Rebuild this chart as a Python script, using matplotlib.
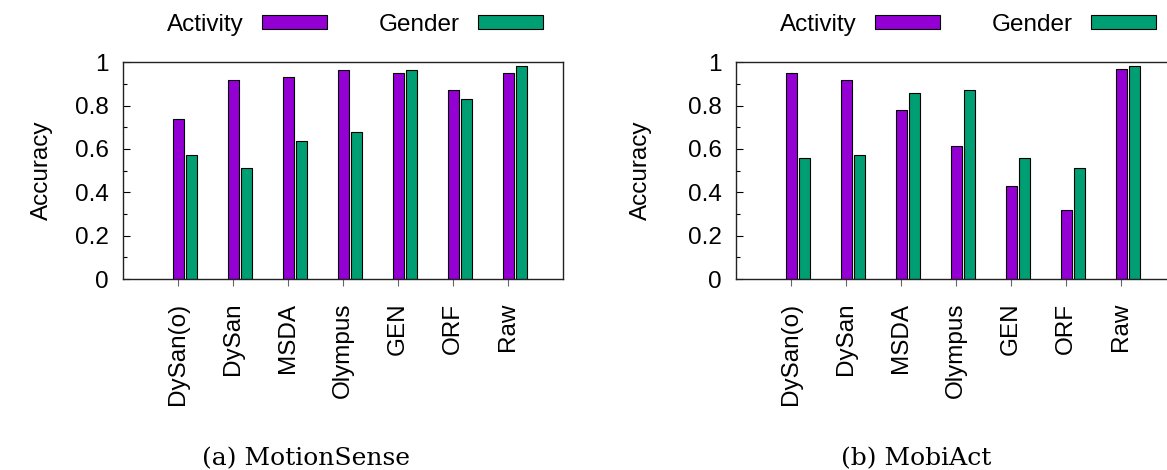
import numpy as np
import matplotlib
matplotlib.use("Agg")
import matplotlib.pyplot as plt
from matplotlib.ticker import MultipleLocator

plt.rcParams['font.family'] = ['Liberation Sans', 'DejaVu Sans']

methods = ["DySan(o)", "DySan", "MSDA", "Olympus", "GEN", "ORF", "Raw"]

# MotionSense
ms_activity = [0.74, 0.92, 0.93, 0.963, 0.952, 0.873, 0.952]
ms_gender = [0.571, 0.512, 0.639, 0.68, 0.963, 0.832, 0.981]

# MobiAct
ma_activity = [0.95, 0.92, 0.78, 0.613, 0.43, 0.318, 0.97]
ma_gender = [0.56, 0.57, 0.86, 0.87, 0.56, 0.512, 0.985]

captions = ["(a) MotionSense", "(b) MobiAct"]

purple = "#9400d3"
green = "#009e73"
fs = 17.5

W, H = 1167, 470
fig = plt.figure(figsize=(W / 100, H / 100), dpi=100)

def px_axes(left, top, width, height):
    return fig.add_axes([left / W, 1 - (top + height) / H, width / W, height / H])

# left px, axes width px, ylabel x px, caption x px
panels = [
    (123, 440, 53, 306, ms_activity, ms_gender, captions[0]),
    (736, 470, 652, 916, ma_activity, ma_gender, captions[1]),
]

step = 55.0  # px per category

for left, width, ylab_x, cap_x, act, gen, cap in panels:
    ax = px_axes(left, 62.3, width, 216.7)
    x = np.arange(1, len(methods) + 1)
    ax.bar(x, act, width=0.2, color=purple, edgecolor="black", linewidth=0.8, label="Activity")
    ax.bar(x + 0.245, gen, width=0.2, color=green, edgecolor="black", linewidth=0.8, label="Gender")
    ax.set_xlim(0, width / step)
    ax.set_ylim(0, 1)
    ax.set_xticks(x)
    ax.set_xticklabels(methods, rotation=90, fontsize=fs, va="top", ha="center")
    ax.set_yticks([0, 0.2, 0.4, 0.6, 0.8, 1.0])
    ax.set_yticklabels(["0", "0.2", "0.4", "0.6", "0.8", "1"], fontsize=fs)
    ax.yaxis.set_minor_locator(MultipleLocator(0.1))
    ax.tick_params(axis="y", which="major", direction="in", length=5, width=0.8, pad=10)
    ax.tick_params(axis="y", which="minor", direction="in", length=3, width=0.8)
    ax.tick_params(axis="x", direction="out", length=5, width=0.8, color="#666666", pad=12)
    for s in ax.spines.values():
        s.set_linewidth(1.0)
        s.set_color("#222222")
    ax.set_ylabel("Accuracy", fontsize=fs)
    ax.yaxis.set_label_coords((ylab_x - left) / width, 0.5)

    leg_cx = (left + 232) - left
    ax.legend(loc="center", bbox_to_anchor=(leg_cx / width, 1.172), ncol=2, frameon=False,
              markerfirst=False, fontsize=fs, handlelength=2.67, handleheight=0.5,
              handletextpad=0.74, columnspacing=2.14, borderpad=0, borderaxespad=0)

    fig.text(cap_x / W, (H - 459) / H, cap, fontsize=18, family="DejaVu Serif",
             ha="center", va="center")

fig.savefig("out.png", dpi=100)
